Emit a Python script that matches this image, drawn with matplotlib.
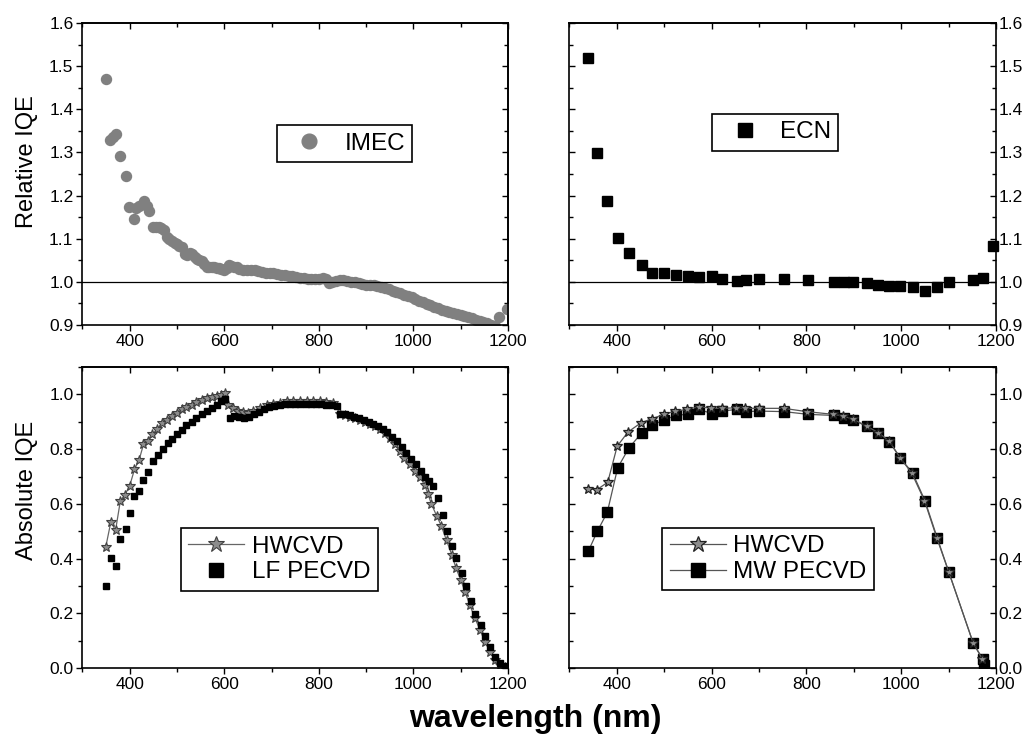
import matplotlib
matplotlib.use('Agg')
import matplotlib.pyplot as plt
from matplotlib.ticker import MultipleLocator, FormatStrFormatter

plt.rcParams['font.family'] = ['Liberation Sans', 'DejaVu Sans']

# --- top left: relative IQE, IMEC ---
imec_wl = [350, 358, 364, 371, 380, 391, 399, 409, 414, 420, 430, 436, 441, 449, 455, 461,
           467, 472, 478, 484, 489, 495, 500, 505, 510, 516, 521, 527, 531, 537, 542, 547,
           552, 558, 563, 568, 573, 578, 584, 589, 594, 600, 605, 610, 615, 620, 626, 632,
           640, 648, 656, 664, 672, 680, 688, 696, 704, 712, 720, 728, 736, 744, 752, 760,
           768, 776, 784, 792, 800, 808, 816, 822, 828, 836, 844, 852, 860, 868, 876, 884,
           892, 900, 908, 916, 924, 932, 940, 948, 956, 964, 972, 980, 988, 996, 1004, 1012,
           1020, 1028, 1036, 1044, 1052, 1060, 1068, 1076, 1084, 1092, 1100, 1108, 1116, 1124,
           1132, 1140, 1148, 1156, 1164, 1172, 1181, 1198]
imec_rel = [1.470, 1.330, 1.335, 1.343, 1.292, 1.246, 1.173, 1.146, 1.172, 1.175, 1.187, 1.175,
            1.164, 1.127, 1.126, 1.128, 1.125, 1.121, 1.103, 1.098, 1.094, 1.090, 1.087, 1.083,
            1.080, 1.065, 1.062, 1.066, 1.063, 1.057, 1.053, 1.050, 1.049, 1.040, 1.035, 1.034,
            1.035, 1.034, 1.032, 1.031, 1.029, 1.026, 1.032, 1.038, 1.037, 1.034, 1.033, 1.030,
            1.028, 1.028, 1.026, 1.026, 1.024, 1.022, 1.021, 1.020, 1.019, 1.017, 1.016, 1.015,
            1.013, 1.012, 1.011, 1.009, 1.008, 1.006, 1.005, 1.005, 1.007, 1.008, 1.006, 0.996,
            0.998, 1.001, 1.003, 1.004, 1.002, 0.999, 0.998, 0.996, 0.995, 0.993, 0.992, 0.991,
            0.989, 0.987, 0.985, 0.982, 0.979, 0.976, 0.973, 0.970, 0.967, 0.964, 0.960, 0.956,
            0.952, 0.948, 0.945, 0.942, 0.939, 0.935, 0.932, 0.929, 0.926, 0.924, 0.922, 0.920,
            0.918, 0.915, 0.912, 0.909, 0.906, 0.903, 0.900, 0.897, 0.917, 0.936]

# --- top right: relative IQE, ECN ---
ecn_wl = [340, 359, 380, 402, 426, 453, 474, 500, 524, 551, 574, 600, 622, 653, 673, 701,
          753, 804, 859, 880, 899, 927, 952, 975, 998, 1024, 1050, 1076, 1100, 1152, 1172, 1194]
ecn_rel = [1.519, 1.298, 1.187, 1.102, 1.067, 1.038, 1.019, 1.019, 1.016, 1.012, 1.010, 1.013,
           1.007, 1.002, 1.004, 1.005, 1.007, 1.004, 0.999, 0.998, 0.998, 0.996, 0.993, 0.990,
           0.989, 0.987, 0.979, 0.988, 1.000, 1.004, 1.008, 1.083]

# --- bottom left: absolute IQE, HWCVD vs LF PECVD ---
hw1_wl = [349, 360, 370, 380, 390, 400, 410, 420, 429, 439, 448, 458, 468, 478, 489, 499,
          510, 520, 531, 541, 552, 563, 573, 584, 594, 601, 608, 619, 630, 640, 650, 661,
          675, 690, 704, 718, 732, 746, 760, 774, 788, 802, 816, 830, 845, 856, 866, 877,
          887, 898, 908, 918, 929, 939, 950, 960, 971, 981, 992, 1003, 1014, 1024, 1031, 1038,
          1049, 1059, 1070, 1081, 1090, 1100, 1109, 1119, 1130, 1141, 1151, 1162, 1172, 1183,
          1193]
hw1_iqe = [0.441, 0.534, 0.504, 0.610, 0.634, 0.667, 0.726, 0.762, 0.817, 0.829, 0.854, 0.872,
           0.896, 0.908, 0.921, 0.933, 0.945, 0.955, 0.963, 0.972, 0.979, 0.985, 0.992, 0.994,
           0.996, 1.004, 0.960, 0.951, 0.941, 0.935, 0.933, 0.941, 0.951, 0.960, 0.966, 0.970,
           0.974, 0.976, 0.976, 0.975, 0.975, 0.974, 0.972, 0.970, 0.930, 0.925, 0.918, 0.913,
           0.908, 0.900, 0.893, 0.884, 0.872, 0.858, 0.840, 0.818, 0.792, 0.768, 0.745, 0.722,
           0.698, 0.668, 0.635, 0.600, 0.557, 0.520, 0.467, 0.415, 0.366, 0.323, 0.280, 0.232,
           0.183, 0.140, 0.097, 0.061, 0.030, 0.012, 0.005]
lf_wl = [349, 360, 370, 380, 391, 401, 410, 420, 429, 439, 450, 460, 470, 480, 489, 499,
         510, 520, 531, 541, 552, 563, 573, 584, 594, 601, 611, 620, 631, 641, 652, 662,
         673, 684, 695, 706, 717, 728, 739, 750, 761, 772, 783, 794, 805, 816, 827, 838,
         845, 855, 865, 875, 885, 895, 905, 915, 925, 935, 945, 955, 965, 975, 985, 995,
         1005, 1015, 1025, 1033, 1042, 1051, 1062, 1071, 1081, 1091, 1102, 1111, 1122, 1131,
         1142, 1152, 1162, 1172, 1183, 1193, 1199]
lf_iqe = [0.301, 0.402, 0.374, 0.473, 0.509, 0.567, 0.630, 0.646, 0.689, 0.717, 0.758, 0.780,
          0.801, 0.821, 0.838, 0.854, 0.869, 0.887, 0.900, 0.915, 0.927, 0.939, 0.951, 0.963,
          0.976, 0.982, 0.915, 0.921, 0.918, 0.915, 0.918, 0.927, 0.937, 0.946, 0.953, 0.958,
          0.962, 0.964, 0.965, 0.965, 0.965, 0.965, 0.966, 0.966, 0.964, 0.962, 0.961, 0.958,
          0.930, 0.927, 0.923, 0.918, 0.913, 0.907, 0.900, 0.893, 0.885, 0.874, 0.862, 0.846,
          0.828, 0.808, 0.786, 0.765, 0.745, 0.722, 0.700, 0.685, 0.665, 0.620, 0.561, 0.500,
          0.447, 0.402, 0.348, 0.301, 0.246, 0.198, 0.158, 0.116, 0.077, 0.042, 0.018, 0.010,
          0.005]

# --- bottom right: absolute IQE, HWCVD vs MW PECVD ---
hw2_wl = [339, 358, 381, 401, 424, 451, 474, 500, 523, 548, 574, 599, 621, 652, 671, 701,
          752, 801, 857, 878, 899, 927, 952, 975, 998, 1022, 1049, 1075, 1100, 1152, 1171]
hw2_iqe = [0.656, 0.652, 0.679, 0.811, 0.863, 0.896, 0.911, 0.927, 0.939, 0.945, 0.955, 0.949,
           0.949, 0.951, 0.949, 0.949, 0.949, 0.937, 0.927, 0.921, 0.909, 0.884, 0.860, 0.829,
           0.768, 0.713, 0.612, 0.476, 0.353, 0.091, 0.034]
mw_wl = [340, 359, 380, 402, 426, 453, 474, 500, 524, 551, 574, 600, 622, 653, 673, 701,
         753, 804, 859, 880, 899, 927, 952, 975, 998, 1024, 1050, 1076, 1100, 1152, 1172, 1174]
mw_iqe = [0.427, 0.500, 0.569, 0.732, 0.805, 0.860, 0.888, 0.906, 0.923, 0.928, 0.945, 0.930,
          0.939, 0.945, 0.937, 0.939, 0.937, 0.927, 0.923, 0.915, 0.906, 0.884, 0.860, 0.826,
          0.768, 0.713, 0.612, 0.476, 0.353, 0.091, 0.034, 0.012]

xticks_major = 200
tick_fs = 12.5
legend_fs = 17.5

fig = plt.figure(figsize=(10.31, 7.45), dpi=100)
ax_tl = fig.add_axes([0.080, 0.5642, 0.4127, 0.4045])
ax_tr = fig.add_axes([0.5522, 0.5642, 0.4139, 0.4045])
ax_bl = fig.add_axes([0.080, 0.1030, 0.4127, 0.4044])
ax_br = fig.add_axes([0.5522, 0.1030, 0.4139, 0.4044])


def style(ax, ylim, ymaj, ymin, labels_right):
    ax.set_xlim(300, 1200)
    ax.set_ylim(*ylim)
    ax.xaxis.set_major_locator(MultipleLocator(xticks_major))
    ax.xaxis.set_minor_locator(MultipleLocator(100))
    ax.yaxis.set_major_locator(MultipleLocator(ymaj))
    ax.yaxis.set_minor_locator(MultipleLocator(ymin))
    ax.yaxis.set_major_formatter(FormatStrFormatter('%.1f'))
    for s in ax.spines.values():
        s.set_linewidth(1.2)
    ax.tick_params(which='major', length=4.5, width=1.0, labelsize=tick_fs, pad=2)
    ax.tick_params(which='minor', length=2.7, width=1.0)
    ax.tick_params(axis='x', which='both', direction='out', top=False)
    top = ax.secondary_xaxis('top')
    top.xaxis.set_major_locator(MultipleLocator(xticks_major))
    top.xaxis.set_minor_locator(MultipleLocator(100))
    top.tick_params(which='both', direction='in', labeltop=False, width=1.0)
    top.tick_params(which='major', length=4.5)
    top.tick_params(which='minor', length=2.7)
    top.spines['top'].set_linewidth(1.2)
    if labels_right:
        ax.tick_params(axis='y', which='both', direction='in', left=True, right=True,
                       labelleft=False, labelright=True)
    else:
        ax.tick_params(axis='y', which='both', direction='out', right=False)
        rgt = ax.secondary_yaxis('right')
        rgt.yaxis.set_major_locator(MultipleLocator(ymaj))
        rgt.yaxis.set_minor_locator(MultipleLocator(ymin))
        rgt.tick_params(which='both', direction='in', labelright=False, width=1.0)
        rgt.tick_params(which='major', length=4.5)
        rgt.tick_params(which='minor', length=2.7)
        rgt.spines['right'].set_linewidth(1.2)


def boxed_legend(ax, center, hl, htp, sizes):
    leg = ax.legend(loc='center', bbox_to_anchor=center, fontsize=legend_fs, frameon=True,
                    fancybox=False, edgecolor='black', framealpha=1, handlelength=hl,
                    handletextpad=htp, borderpad=0.3, labelspacing=0.15)
    leg.get_frame().set_linewidth(1.2)
    for h, s in zip(leg.legend_handles, sizes):
        h.set_markersize(s)
    return leg


# top left
ax_tl.plot(imec_wl, imec_rel, 'o', color='#808080', markersize=7.2, mec='#808080', label='IMEC')
ax_tl.axhline(1.0, color='black', lw=0.9)
style(ax_tl, (0.9, 1.6), 0.1, 0.05, False)
ax_tl.set_ylabel('Relative IQE', fontsize=17)
ax_tl.yaxis.set_label_coords(-0.105, 0.54)
boxed_legend(ax_tl, (0.616, 0.601), 2.07, 0.41, [10.6])

# top right
ax_tr.plot(ecn_wl, ecn_rel, 's', color='black', markersize=6.7, label='ECN', clip_on=False)
ax_tr.axhline(1.0, color='black', lw=0.9)
style(ax_tr, (0.9, 1.6), 0.1, 0.05, True)
boxed_legend(ax_tr, (0.483, 0.638), 2.07, 0.41, [10])

# bottom left
ax_bl.plot(hw1_wl, hw1_iqe, '-*', color='#666666', lw=0.9, markersize=7.2,
           mfc='#8c8c8c', mec='#404040', mew=0.8, label='HWCVD')
ax_bl.plot(lf_wl, lf_iqe, 's', color='black', markersize=5, label='LF PECVD')
style(ax_bl, (0.0, 1.1), 0.2, 0.1, False)
ax_bl.set_ylabel('Absolute IQE', fontsize=17)
ax_bl.yaxis.set_label_coords(-0.105, 0.59)
boxed_legend(ax_bl, (0.463, 0.361), 2.3, 0.32, [12, 10.3])

# bottom right
ax_br.plot(hw2_wl, hw2_iqe, '-*', color='#555555', lw=0.9, markersize=7.8,
           mfc='#8c8c8c', mec='#222222', mew=0.9, label='HWCVD', zorder=3)
ax_br.plot(mw_wl, mw_iqe, '-s', color='#555555', lw=0.9, markersize=6.5,
           mfc='black', mec='black', label='MW PECVD', zorder=2)
style(ax_br, (0.0, 1.1), 0.2, 0.1, True)
boxed_legend(ax_br, (0.466, 0.362), 2.3, 0.32, [12, 10.3])

fig.text(0.519, 0.035, 'wavelength (nm)', fontsize=23, fontweight='bold',
         ha='center', va='center')

fig.savefig('out.png', dpi=100)
